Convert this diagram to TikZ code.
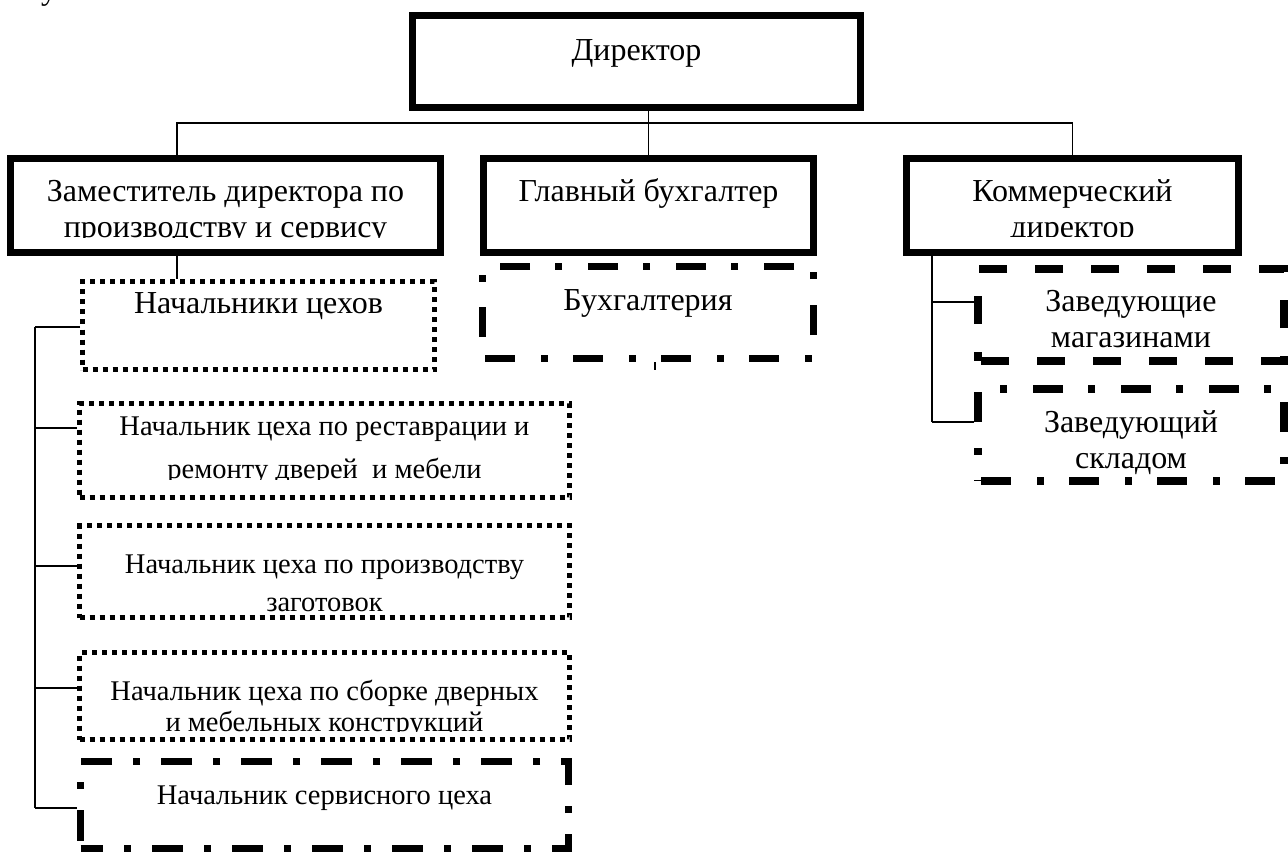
\documentclass[tikz,border=0pt]{standalone}
\usepackage{fontspec}
\setmainfont{Liberation Serif}
\usepackage{tikz}

\newcommand{\topfont}{\fontsize{32}{36}\selectfont}
\newcommand{\shopfont}{\fontsize{28.5}{33}\selectfont}

\begin{document}
\begin{tikzpicture}
 [x=1pt, y=-1pt,
  solid node/.style={draw, rectangle, inner sep=0pt, line width=7pt},
  dash node/.style={draw, rectangle, inner sep=0pt, line width=8pt, dash pattern=on 28pt off 28pt},
  dashdot node/.style={draw, rectangle, inner sep=0pt, line width=7pt, dash pattern=on 30pt off 26pt on 7pt off 25pt},
  dot node/.style={draw, rectangle, inner sep=0pt, line width=5pt, dash pattern=on 5pt off 5pt},
  words/.style n args={4}{path picture={
    \clip ([yshift=#3]path picture bounding box.south west) rectangle (path picture bounding box.north east);
    \node[inner sep=0pt, minimum width=0pt, minimum height=0pt, align=center, anchor=north, font=#4]
      at ([yshift=-#2]path picture bounding box.north) {\strut #1};}},
  branch line/.style={line width=1.3pt}]

\useasboundingbox (0,0) rectangle (1288,853);
\clip (0,0) rectangle (1288,853);

\node[font=\topfont, inner sep=0pt, anchor=base] (cut) at (49,0) {у};

\node[solid node, minimum width=448pt, minimum height=92pt, words={Директор}{16.5pt}{0pt}{\topfont}] (dir) at (636.5,61.5) {};
\node[solid node, minimum width=430pt, minimum height=94pt, words={Заместитель директора по\\производству и сервису}{14.5pt}{14.5pt}{\topfont}] (zam) at (225.5,205.5) {};
\node[solid node, minimum width=330pt, minimum height=94pt, words={Главный бухгалтер}{14.5pt}{0pt}{\topfont}] (glav) at (648.5,205.5) {};
\node[solid node, minimum width=332pt, minimum height=94pt, words={Коммерческий\\директор}{14.3pt}{15.5pt}{\topfont}] (komm) at (1072.5,205.5) {};

\node[dashdot node, dash phase=85.5pt, minimum width=331pt, minimum height=92pt, words={Бухгалтерия}{15.3pt}{0pt}{\topfont}] (buh) at (648,312.5) {};
\node[dash node, dash phase=53pt, minimum width=306pt, minimum height=92pt, words={Заведующие\\магазинами}{12.8pt}{0pt}{\topfont}] (mag) at (1131,315) {};
\node[dashdot node, line width=8pt, dash phase=85pt, minimum width=306pt, minimum height=92pt, words={Заведующий\\складом}{13.8pt}{0pt}{\topfont}] (sklad) at (1131,435) {};

\node[dot node, minimum width=352pt, minimum height=88pt, words={Начальники цехов}{4.3pt}{0pt}{\topfont}] (nach) at (258.5,325.5) {};
\node[dot node, minimum width=490pt, minimum height=94pt, words={Начальник цеха по реставрации и\\[10pt]ремонту дверей\ \ и мебели}{6.4pt}{18.5pt}{\shopfont}] (rest) at (324.5,450.5) {};
\node[dot node, minimum width=490pt, minimum height=92pt, words={Начальник цеха по производству\\[5pt]заготовок}{22.4pt}{0pt}{\shopfont}] (proizv) at (324.5,571.5) {};
\node[dot node, minimum width=490pt, minimum height=87pt, words={Начальник цеха по сборке дверных\\[-2pt]и мебельных конструкций}{22.4pt}{8.5pt}{\shopfont}] (sbor) at (324.5,696) {};
\node[dashdot node, dash pattern=on 31pt off 21pt on 7pt off 21pt, dash phase=8.5pt, minimum width=488pt, minimum height=87pt, words={Начальник сервисного цеха}{16.4pt}{0pt}{\shopfont}] (serv) at (324.5,805) {};

\coordinate (bus) at (648.5,123);
\coordinate (spine) at (35,0);
\coordinate (trunk) at (932,0);
\coordinate (stub) at ([xshift=7pt,yshift=-8pt]buh.south);

% top level
\draw[branch line] (dir.south -| glav.north) -- (glav.north);
\draw[branch line] ([xshift=-48.5pt]zam.north) |- (bus) -| (komm.north);

% production side
\draw[branch line] ([xshift=-48.5pt]zam.south) -- ([xshift=-48.5pt]zam.south |- nach.north);
\draw[branch line] ([yshift=-1.5pt]nach.west -| spine) -- ([yshift=-3pt]serv.west -| spine);
\foreach \n/\s in {nach/-1.5, rest/22.5, proizv/5.5, sbor/8, serv/-3}
  \draw[branch line] ([yshift=\s pt]\n.west) -- ([yshift=\s pt]\n.west -| spine);

% accounts
\draw[branch line] ([xshift=7pt]buh.south) -- (stub);

% commerce side
\draw[branch line] (komm.south -| trunk) -- ([yshift=13pt]sklad.west -| trunk);
\foreach \n in {mag, sklad}
  \draw[branch line] ([yshift=13pt]\n.west) -- ([yshift=13pt]\n.west -| trunk);

\end{tikzpicture}
\end{document}
